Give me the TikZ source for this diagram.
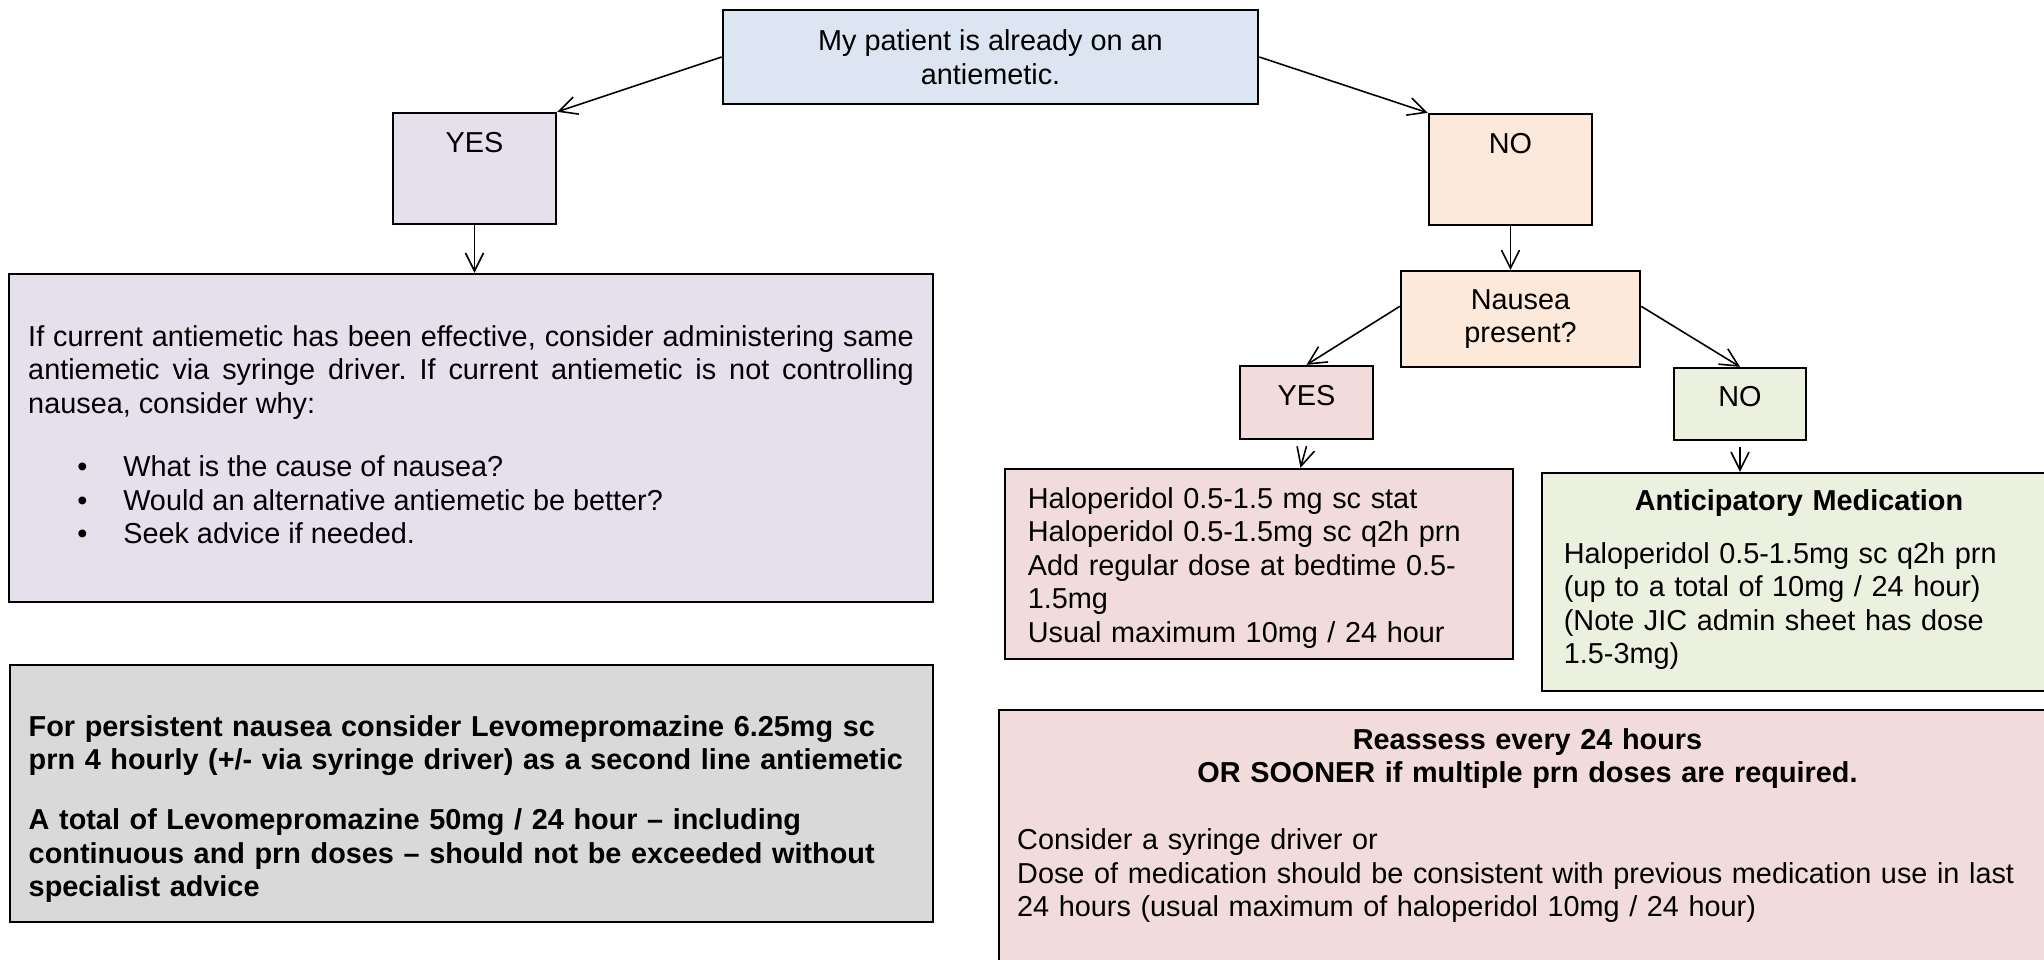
\documentclass[tikz,border=0pt]{standalone}
\usepackage{fontspec}
\setmainfont{Liberation Sans}
\usetikzlibrary{arrows.meta}
\frenchspacing

\definecolor{boxblue}{HTML}{DCE6F2}
\definecolor{boxlilac}{HTML}{E5E0EC}
\definecolor{boxpeach}{HTML}{FDE9D9}
\definecolor{boxpink}{HTML}{F2DCDB}
\definecolor{boxgreen}{HTML}{EBF1DE}
\definecolor{boxgrey}{HTML}{D9D9D9}

\begin{document}
\begin{tikzpicture}[x=0.01cm, y=-0.01cm,
	font=\fontsize{8.2}{9.5}\selectfont,
	box/.style={draw=black, line width=0.65pt, rectangle, inner sep=0pt},
	topbox/.style 2 args={box, text height=#1, text depth=#2},	%text at the top
	bold/.style={font=\fontsize{8.2}{9.5}\selectfont\bfseries},
	arr/.style={line width=0.45pt, -{Straight Barb[length=1.8mm, width=1.8mm]}}]
	\useasboundingbox (0,0) rectangle (2044,960);
	\clip (0,0) rectangle (2044,960);
	
	%question
	\node[box, fill=boxblue, minimum width=5.35cm, minimum height=0.94cm, align=center] (patient) at (990.5,57)
		{My patient is already on an\\antiemetic.};
	
	%first answers
	\node[topbox={0.395cm}{0.715cm}, fill=boxlilac, minimum width=1.63cm] (yesA) at (474.5,168.5) {YES};
	\node[topbox={0.395cm}{0.715cm}, fill=boxpeach, minimum width=1.63cm] (noA) at (1510.5,169.5) {NO};
	
	%left side
	\node[topbox={0.725cm}{2.555cm}, fill=boxlilac, inner xsep=0.195cm, text width=8.85cm, align=justify] (effective) at (471,438)
		{If current antiemetic has been effective, consider administering same\linebreak
		antiemetic via syringe driver. If current antiemetic is not controlling\linebreak
		nausea, consider why:\\[0.3cm]
		\hspace*{0.49cm}\makebox[0.46cm][l]{\textbullet}What is the cause of nausea?\\
		\hspace*{0.49cm}\makebox[0.46cm][l]{\textbullet}Would an alternative antiemetic be better?\\
		\hspace*{0.49cm}\makebox[0.46cm][l]{\textbullet}Seek advice if needed.};
	\node[topbox={0.715cm}{1.855cm}, bold, fill=boxgrey, inner xsep=0.19cm, text width=8.85cm, align=left] (levo) at (471.5,793.5)
		{For persistent nausea consider Levomepromazine 6.25mg sc\\
		prn 4 hourly (+/- via syringe driver) as a second line antiemetic\\[0.265cm]
		A total of Levomepromazine 50mg / 24 hour – including\\
		continuous and prn doses – should not be exceeded without\\
		specialist advice};
	
	%right side
	\node[box, fill=boxpeach, minimum width=2.39cm, minimum height=0.96cm, align=center] (nausea) at (1520.5,319)
		{Nausea\\present?};
	\node[topbox={0.395cm}{0.335cm}, fill=boxpink, minimum width=1.33cm] (yesB) at (1306.5,402.5) {YES};
	\node[topbox={0.385cm}{0.335cm}, fill=boxgreen, minimum width=1.32cm] (noB) at (1740,404) {NO};
	
	\node[topbox={0.395cm}{1.505cm}, fill=boxpink, inner xsep=0.23cm, text width=4.62cm, align=left] (halo) at (1259,564)
		{Haloperidol 0.5-1.5 mg sc stat\\
		Haloperidol 0.5-1.5mg sc q2h prn\\
		Add regular dose at bedtime 0.5-\\
		1.5mg\\
		Usual maximum 10mg / 24 hour};
	\node[topbox={0.375cm}{1.805cm}, fill=boxgreen, inner xsep=0.22cm, text width=4.70cm, align=left] (antic) at (1799,582)
		{\makebox[\linewidth]{\bfseries Anticipatory Medication}\\[0.195cm]
		Haloperidol 0.5-1.5mg sc q2h prn\\
		(up to a total of 10mg / 24 hour)\\
		(Note JIC admin sheet has dose\\
		1.5-3mg)};
	\node[topbox={0.395cm}{2.305cm}, fill=boxpink, inner xsep=0.185cm, text width=10.20cm, align=left] (reassess) at (1527.5,845)
		{\makebox[\linewidth]{\bfseries Reassess every 24 hours}\\
		\makebox[\linewidth]{\bfseries OR SOONER if multiple prn doses are required.}\\[0.335cm]
		Consider a syringe driver or\\
		Dose of medication should be consistent with previous medication use in last\\
		24 hours (usual maximum of haloperidol 10mg / 24 hour)};
	
	%arrows
	\draw[arr] (patient.west) -- (yesA.north east);
	\draw[arr] (patient.east) -- (noA.north west);
	\draw[arr] (yesA.south) -- (yesA.south |- effective.north);
	\draw[arr] (noA.south) -- (noA.south |- nausea.north);
	\draw[arr] (nausea.174) -- (yesB.north);
	\draw[arr] (nausea.6) -- (noB.north);
	\draw[arr] ([yshift=-0.06cm]yesB.south) -- ([xshift=-0.06cm]yesB.south |- halo.north);
	\draw[arr] ([yshift=-0.06cm]noB.south) -- (noB.south |- antic.north);
\end{tikzpicture}
\end{document}
